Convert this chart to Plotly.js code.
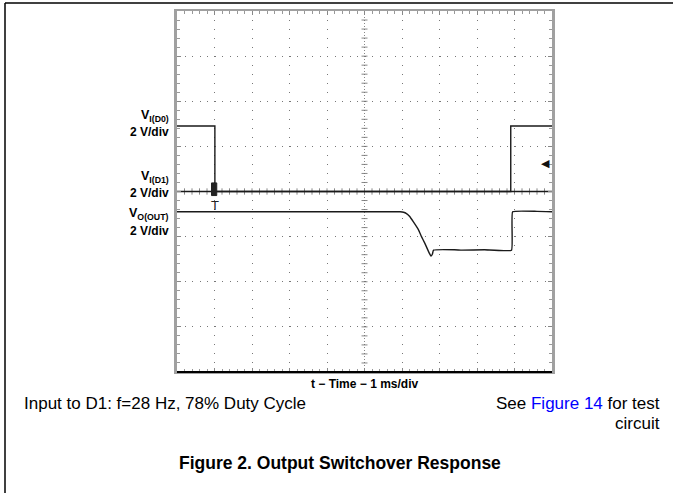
<!DOCTYPE html>
<html>
<head>
<meta charset="utf-8">
<script src="https://cdn.plot.ly/plotly-3.0.1.min.js"></script>
<style>html,body{margin:0;padding:0;background:#fff;}#chart{width:673px;height:493px;}</style>
</head>
<body>
<div id="chart"></div>
<script>
// Time axis in ms (1 ms/div, 10 divisions), vertical axis in divisions (8)
const d0Time = [0, 1.01, 1.01, 8.90, 8.90, 10];
const d0Level = [5.45, 5.45, 4.00, 4.00, 5.45, 5.45];
const d1Time = [0, 10];
const d1Level = [4.00, 4.00];
const outTime = [0, 5.95, 6.04, 6.12, 6.20, 6.30, 6.44, 6.52, 6.61, 6.67, 6.73, 6.77, 6.81, 6.84, 7.40, 7.60, 8.20, 8.92, 8.95, 9.60, 10];
const outLevel = [3.55, 3.55, 3.54, 3.51, 3.45, 3.33, 3.15, 3.00, 2.85, 2.74, 2.63, 2.57, 2.61, 2.70, 2.71, 2.70, 2.71, 2.70, 3.55, 3.56, 3.55];
const triggerTime = 1.01;
const triggerLevel = 4.00;
const channelLabels = [
  {name: 'V<sub>I(D0)</sub>', scale: '2 V/div'},
  {name: 'V<sub>I(D1)</sub>', scale: '2 V/div'},
  {name: 'V<sub>O(OUT)</sub>', scale: '2 V/div'}
];
const xTitle = 't − Time − 1 ms/div';
const noteLeft = 'Input to D1: f=28 Hz, 78% Duty Cycle';
const figTitle = 'Figure 2. Output Switchover Response';

const W = 673, H = 493, L = 177, R = 121, T = 11, B = 121;
const pw = W - L - R, ph = H - T - B;
const px = x => (x - L) / pw;
const py = y => (H - B - y) / ph;

const traces = [
  {x: d0Time, y: d0Level, mode: 'lines', line: {color: '#1a1a1a', width: 1.4}, hoverinfo: 'skip'},
  {x: d1Time, y: d1Level, mode: 'lines', line: {color: '#1a1a1a', width: 1.4}, hoverinfo: 'skip'},
  {x: outTime, y: outLevel, mode: 'lines', line: {color: '#1a1a1a', width: 1.4, shape: 'spline', smoothing: 0.3}, hoverinfo: 'skip'}
];

const shapes = [];
shapes.push({type: 'line', xref: 'x', yref: 'y', x0: 5, x1: 5, y0: 0, y1: 8, line: {color: '#888', width: 1, dash: '1px,2px'}, layer: 'below'});
shapes.push({type: 'line', xref: 'x', yref: 'y', x0: 0, x1: 10, y0: 4, y1: 4, line: {color: '#888', width: 1, dash: '1px,2px'}, layer: 'below'});
for (let i = 1; i < 50; i++) {
  const xv = i * 0.2;
  shapes.push({type: 'line', xref: 'x', yref: 'y', x0: xv, x1: xv, y0: 4 - 0.07, y1: 4 + 0.07, line: {color: '#888', width: 1}, layer: 'below'});
}
for (let i = 1; i < 40; i++) {
  const yv = i * 0.2;
  shapes.push({type: 'line', xref: 'x', yref: 'y', x0: 5 - 0.08, x1: 5 + 0.08, y0: yv, y1: yv, line: {color: '#888', width: 1}, layer: 'below'});
}
shapes.push({type: 'line', xref: 'paper', yref: 'paper', x0: 0, x1: 1, y0: 0, y1: 0, line: {color: '#000', width: 2}});
shapes.push({type: 'line', xref: 'paper', yref: 'paper', x0: px(5), x1: px(673), y0: py(3), y1: py(3), line: {color: '#000', width: 1.5}});
shapes.push({type: 'line', xref: 'paper', yref: 'paper', x0: px(5), x1: px(5), y0: py(3), y1: py(493), line: {color: '#000', width: 1.5}});
shapes.push({type: 'rect', xref: 'x', yref: 'y', x0: triggerTime - 0.09, x1: triggerTime + 0.05, y0: triggerLevel - 0.09, y1: triggerLevel + 0.19, fillcolor: '#222', line: {color: '#222', width: 1}});

const font = 'Liberation Sans, Arial, sans-serif';
const annotations = [];
const labelY = [[116, 131.5], [177, 192.5], [214, 230.5]];
channelLabels.forEach((c, i) => {
  annotations.push({xref: 'paper', yref: 'paper', x: px(171), y: py(labelY[i][0]), xanchor: 'right', yanchor: 'middle', showarrow: false, text: '<b>' + c.name + '</b>', font: {family: font, size: 12.5, color: '#000'}});
  annotations.push({xref: 'paper', yref: 'paper', x: px(171), y: py(labelY[i][1]), xanchor: 'right', yanchor: 'middle', showarrow: false, text: '<b>' + c.scale + '</b>', font: {family: font, size: 12, color: '#000'}});
});
annotations.push({xref: 'x', yref: 'paper', x: triggerTime, y: py(205), xanchor: 'center', yanchor: 'middle', showarrow: false, text: 'T', font: {family: font, size: 13, color: '#222'}});
annotations.push({xref: 'paper', yref: 'paper', x: px(545), y: py(163), xanchor: 'center', yanchor: 'middle', showarrow: false, text: '◀', font: {family: 'DejaVu Sans', size: 11, color: '#111'}});
annotations.push({xref: 'paper', yref: 'paper', x: 0.5, y: py(384), xanchor: 'center', yanchor: 'middle', showarrow: false, text: '<b>' + xTitle + '</b>', font: {family: font, size: 12, color: '#000'}});
annotations.push({xref: 'paper', yref: 'paper', x: px(22), y: py(403), xanchor: 'left', yanchor: 'middle', showarrow: false, text: noteLeft, font: {family: font, size: 17, color: '#000'}});
annotations.push({xref: 'paper', yref: 'paper', x: px(662), y: py(403), xanchor: 'right', yanchor: 'middle', showarrow: false, text: 'See <span style="color:#0000ff">Figure 14</span> for test', font: {family: font, size: 17, color: '#000'}});
annotations.push({xref: 'paper', yref: 'paper', x: px(662), y: py(423), xanchor: 'right', yanchor: 'middle', showarrow: false, text: 'circuit', font: {family: font, size: 17, color: '#000'}});
annotations.push({xref: 'paper', yref: 'paper', x: px(340), y: py(463), xanchor: 'center', yanchor: 'middle', showarrow: false, text: '<b>' + figTitle + '</b>', font: {family: font, size: 17.5, color: '#000'}});

const layout = {
  width: W, height: H,
  margin: {l: L, r: R, t: T, b: B, pad: 0},
  paper_bgcolor: '#fff', plot_bgcolor: '#fff',
  showlegend: false,
  xaxis: {range: [0, 10], dtick: 1, tick0: 0, showticklabels: false, showgrid: true, gridcolor: '#777', gridwidth: 1, griddash: '1px,8px', zeroline: false,
    showline: true, linecolor: '#a0a0a0', linewidth: 2, mirror: 'ticks', ticks: 'inside', ticklen: 4, tickcolor: '#888',
    minor: {dtick: 0.2, ticks: 'inside', ticklen: 3, tickcolor: '#999', showgrid: false}, fixedrange: true},
  yaxis: {range: [0, 8], dtick: 1, tick0: 0, showticklabels: false, showgrid: true, gridcolor: '#777', gridwidth: 1, griddash: '1px,6.5px', zeroline: false,
    showline: true, linecolor: '#a0a0a0', linewidth: 3, mirror: 'ticks', ticks: 'inside', ticklen: 4, tickcolor: '#888',
    minor: {dtick: 0.2, ticks: 'inside', ticklen: 3, tickcolor: '#999', showgrid: false}, fixedrange: true},
  shapes: shapes,
  annotations: annotations
};

Plotly.newPlot('chart', traces, layout, {staticPlot: true, displayModeBar: false});
</script>
</body>
</html>
